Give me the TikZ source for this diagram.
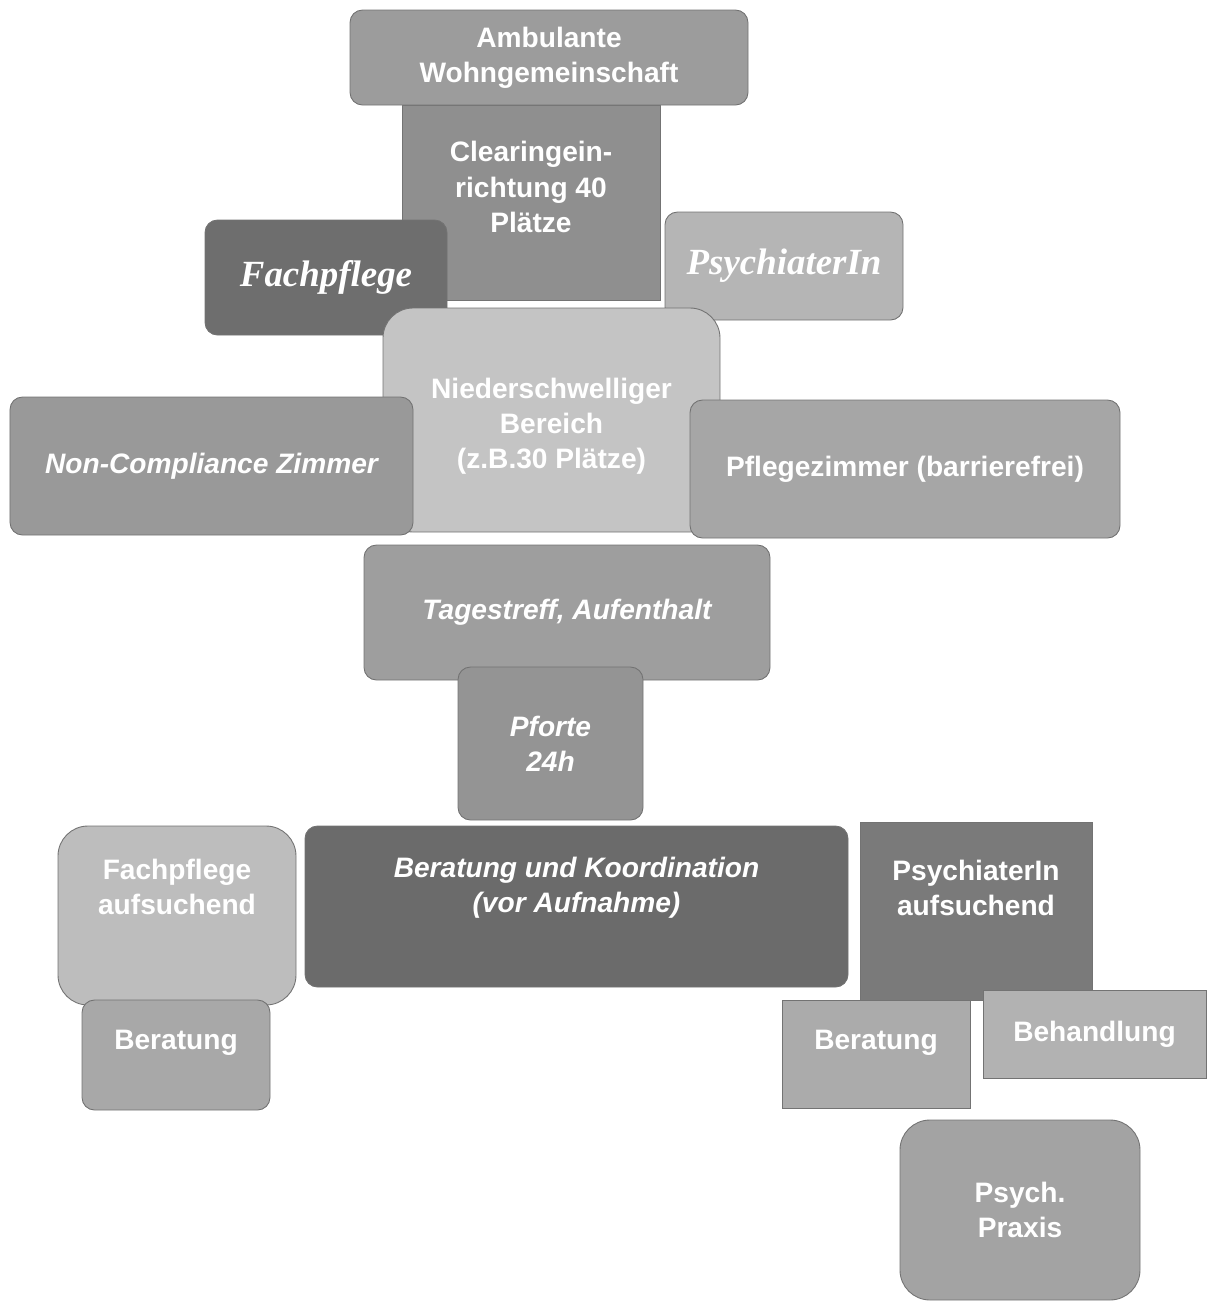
\documentclass[tikz,border=0pt]{standalone}
\usepackage{fontspec}
\setmainfont{Liberation Serif}
\setsansfont{Liberation Sans}
\usepackage{tikz}
\usetikzlibrary{positioning}

\begin{document}
\begin{tikzpicture}[
    blk/.style={rectangle, draw=black!55, line width=0.5pt, rounded corners=0.25cm, inner sep=0pt},
    sq/.style={blk, rounded corners=0pt},
    txt/.style={text=white, align=center, font=\sffamily\bfseries\fontsize{16}{20}\selectfont},
    itxt/.style={txt, font=\sffamily\bfseries\itshape\fontsize{16}{20}\selectfont},
    stxt/.style={text=white, font=\rmfamily\bfseries\itshape\fontsize{21}{24}\selectfont}]
  \useasboundingbox (0,0) rectangle (24.22,-26.08);
  % obere Ebene
  \node [sq, fill=black!44, minimum width=5.16cm, minimum height=3.9cm] (clear) at (10.62,-4.05) {};
  \node [txt] (cleartxt) at (10.62,-3.74) {Clearingein-\\richtung 40\\Plätze};
  \node [blk, fill=black!39, minimum width=7.96cm, minimum height=1.9cm, txt] (amb) at (10.98,-1.15) {Ambulante\\Wohngemeinschaft};
  \node [blk, fill=black!57, minimum width=4.84cm, minimum height=2.3cm, stxt] (fach) at (6.52,-5.55) {Fachpflege};
  \node [blk, fill=black!29, minimum width=4.76cm, minimum height=2.16cm, stxt] (psy) at (15.68,-5.32) {PsychiaterIn};
  % niederschwelliger Bereich
  \node [blk, rounded corners=0.6cm, fill=black!23, minimum width=6.74cm, minimum height=4.48cm] (nieder) at (11.03,-8.4) {};
  \node [blk, fill=black!40, minimum width=8.06cm, minimum height=2.76cm, itxt] (noncomp) at (4.23,-9.32) {Non-Compliance Zimmer};
  \node [blk, fill=black!35, minimum width=8.6cm, minimum height=2.76cm, txt] (pflege) at (18.1,-9.38) {Pflegezimmer (barrierefrei)};
  \node [txt] (niedertxt) at (11.03,-8.52) {Niederschwelliger\\Bereich\\(z.B.30 Plätze)};
  % Tagestreff und Pforte
  \node [blk, fill=black!38, minimum width=8.12cm, minimum height=2.7cm, itxt] (tages) at (11.34,-12.25) {Tagestreff, Aufenthalt};
  \node [blk, fill=black!42, minimum width=3.7cm, minimum height=3.06cm, itxt] (pforte) at (11.01,-14.87) {Pforte\\24h};
  % Beratung
  \node [blk, fill=black!58, minimum width=10.86cm, minimum height=3.22cm,
         label={[itxt, yshift=0.37cm]center:Beratung und Koordination\\(vor Aufnahme)}] (berko) at (11.53,-18.13) {};
  \node [blk, rounded corners=0.6cm, fill=black!26, minimum width=4.76cm, minimum height=3.58cm,
         label={[txt, yshift=0.57cm]center:Fachpflege\\aufsuchend}] (fachauf) at (3.54,-18.31) {};
  \node [blk, fill=black!34, minimum width=3.76cm, minimum height=2.2cm,
         label={[txt, yshift=0.24cm]center:Beratung}] (berl) at (3.52,-21.1) {};
  \node [sq, fill=black!52, minimum width=4.64cm, minimum height=3.56cm,
         label={[txt, yshift=0.46cm]center:PsychiaterIn\\aufsuchend}] (psyauf) at (19.52,-18.22) {};
  \node [sq, fill=black!33, minimum width=3.76cm, minimum height=2.16cm,
         label={[txt, yshift=0.22cm]center:Beratung}] (berr) at (17.52,-21.08) {};
  \node [sq, fill=black!30, minimum width=4.46cm, minimum height=1.76cm, txt] (behand) at (21.89,-20.68) {Behandlung};
  % Praxis
  \node [blk, rounded corners=0.6cm, fill=black!36, minimum width=4.8cm, minimum height=3.6cm, txt] (praxis) at (20.4,-24.2) {Psych.\\Praxis};
\end{tikzpicture}
\end{document}
